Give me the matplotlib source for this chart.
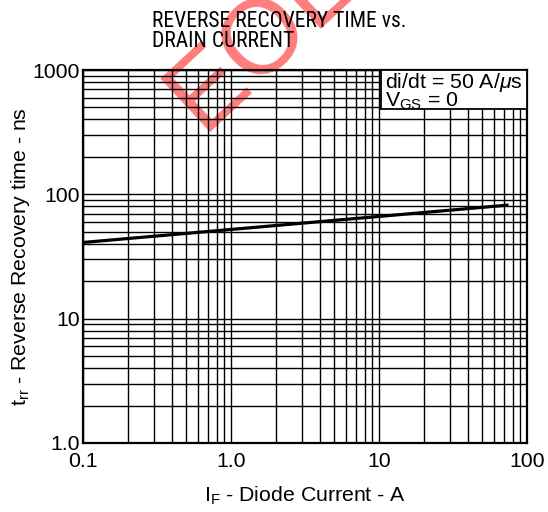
import numpy as np
import matplotlib
matplotlib.use("Agg")
import matplotlib.pyplot as plt
from matplotlib.ticker import LogLocator, FixedLocator, NullFormatter
from matplotlib.patches import Rectangle

plt.rcParams['font.family'] = ['Liberation Sans', 'DejaVu Sans']
plt.rcParams['mathtext.fontset'] = 'custom'
plt.rcParams['mathtext.rm'] = 'Liberation Sans'
plt.rcParams['mathtext.it'] = 'Liberation Sans:italic'

# Data
current_A = [0.1, 75]
trr_ns = [41, 82]
x_ticks = [0.1, 1.0, 10, 100]
x_tick_labels = ["0.1", "1.0", "10", "100"]
y_ticks = [1.0, 10, 100, 1000]
y_tick_labels = ["1.0", "10", "100", "1000"]

W, H = 548, 512
FS = 15.3

fig = plt.figure(figsize=(W / 100, H / 100), dpi=100)
ax = fig.add_axes([83 / W, 1 - 443 / H, 444 / W, 373 / H])
ax.set_facecolor('none')
ax.set_xscale('log')
ax.set_yscale('log')
ax.set_xlim(0.1, 100)
ax.set_ylim(1, 1000)

ax.xaxis.set_major_locator(FixedLocator(x_ticks))
ax.yaxis.set_major_locator(FixedLocator(y_ticks))
ax.xaxis.set_minor_locator(LogLocator(base=10, subs=np.arange(2, 10)))
ax.yaxis.set_minor_locator(LogLocator(base=10, subs=np.arange(2, 10)))
ax.xaxis.set_minor_formatter(NullFormatter())
ax.yaxis.set_minor_formatter(NullFormatter())
ax.set_xticklabels(x_tick_labels, fontsize=FS)
ax.set_yticklabels(y_tick_labels, fontsize=FS)
ax.tick_params(axis='x', which='both', length=0, pad=6.5)
ax.tick_params(axis='y', which='both', length=0, pad=2.5)
ax.grid(True, which='both', color='black', linewidth=1.0)
for s in ax.spines.values():
    s.set_linewidth(1.6)

ax.plot(current_A, trr_ns, color='black', linewidth=2.3, solid_capstyle='butt', zorder=3)

# legend box
ax.add_patch(Rectangle((0.671, 0.8954), 0.329, 0.1046, transform=ax.transAxes,
                       facecolor='white', edgecolor='black', linewidth=1.3, zorder=4))
ax.text(0.680, 0.9517, r"di/dt = 50 A/$\mu$s", transform=ax.transAxes, fontsize=FS,
        va='baseline', ha='left', zorder=5)
ax.text(0.680, 0.901, r"V$_{\mathregular{GS}}$ = 0", transform=ax.transAxes, fontsize=FS,
        va='baseline', ha='left', zorder=5)

# axis labels
fig.text(305 / W, 1 - 502 / H, r"I$_{\mathregular{F}}$ - Diode Current - A", fontsize=FS,
         ha='center', va='baseline')
fig.text(26 / W, 1 - 257 / H, r"t$_{\mathregular{rr}}$ - Reverse Recovery time - ns",
         fontsize=FS, rotation=90, rotation_mode='anchor', ha='center', va='baseline')

# title
fig.text(152 / W, 1 - 27 / H, "REVERSE RECOVERY TIME vs.", fontsize=15.6,
         family='Roboto Condensed', ha='left', va='baseline')
fig.text(152 / W, 1 - 47 / H, "DRAIN CURRENT", fontsize=15.6,
         family='Roboto Condensed', ha='left', va='baseline')

# watermark
fig.text(260 / W, 1 - 40 / H, "EOL", fontsize=76, color='#ff4545', alpha=0.7,
         rotation=43, rotation_mode='anchor', ha='center', va='center', zorder=-1)

fig.savefig("out.png", dpi=100)
